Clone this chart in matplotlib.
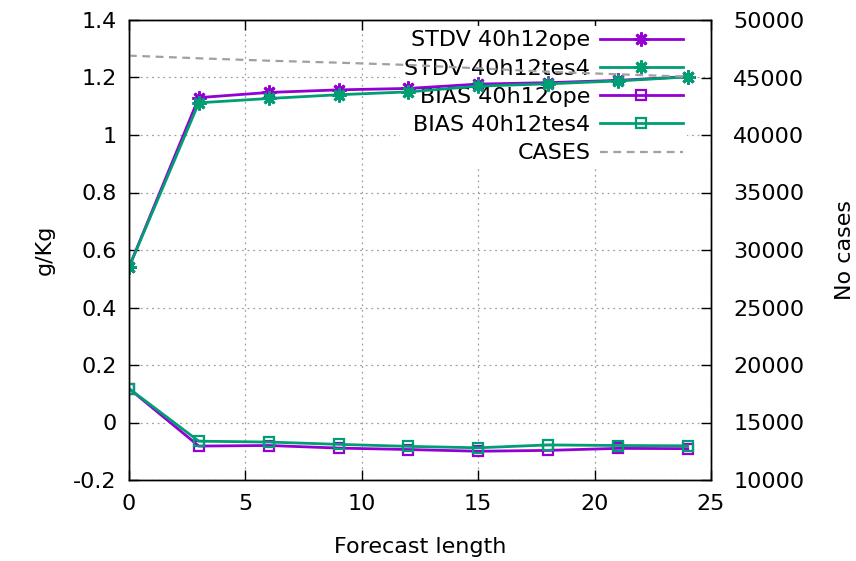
import numpy as np
import matplotlib
matplotlib.use("Agg")
import matplotlib.pyplot as plt

# forecast length (h)
lead = [0, 3, 6, 9, 12, 15, 18, 21, 24]

stdv_ope = [0.54, 1.130, 1.148, 1.157, 1.162, 1.177, 1.182, 1.190, 1.203]
stdv_tes4 = [0.54, 1.112, 1.127, 1.140, 1.150, 1.170, 1.178, 1.188, 1.202]
bias_ope = [0.118, -0.082, -0.080, -0.089, -0.094, -0.100, -0.097, -0.090, -0.091]
bias_tes4 = [0.118, -0.065, -0.068, -0.076, -0.083, -0.088, -0.078, -0.080, -0.081]
cases = [46900, 46670, 46460, 46290, 46090, 45800, 45500, 45280, 45070]

PURPLE = "#9400d3"
GREEN = "#009e73"
GREY = "#a0a0a0"

plt.rcParams["font.family"] = "DejaVu Sans"
plt.rcParams["font.size"] = 16

fig = plt.figure(figsize=(8.56, 5.61), dpi=100)
ax = fig.add_axes([129 / 856, 1 - 480 / 561, (711 - 129) / 856, 460 / 561])
ax2 = ax.twinx()

star = (8, 2, 0)  # gnuplot-ish asterisk
lw = 2.0

ax.plot(lead, stdv_ope, color=PURPLE, lw=lw, marker=star, ms=10, mew=2.0,
        label="STDV 40h12ope", zorder=3)
ax.plot(lead, stdv_tes4, color=GREEN, lw=lw, marker=star, ms=10, mew=2.0,
        label="STDV 40h12tes4", zorder=3)
ax.plot(lead, bias_ope, color=PURPLE, lw=lw, marker="s", ms=7, mew=1.6,
        mfc="none", label="BIAS 40h12ope", zorder=3)
ax.plot(lead, bias_tes4, color=GREEN, lw=lw, marker="s", ms=7, mew=1.6,
        mfc="none", label="BIAS 40h12tes4", zorder=3)
# cases drawn in the main axes but with the right-hand scale, so it sits above the key
ax.plot(lead, cases, color=GREY, lw=1.6, ls=(0, (3.5, 2.5)),
        transform=ax2.transData, label="CASES", zorder=3)

ax.set_xlim(0, 25)
ax.set_ylim(-0.2, 1.4)
ax2.set_ylim(10000, 50000)

ax.set_xticks(np.arange(0, 26, 5))
ax.set_yticks(np.arange(-0.2, 1.41, 0.2))
ax.set_yticklabels(["-0.2", "0", "0.2", "0.4", "0.6", "0.8", "1", "1.2", "1.4"])
ax2.set_yticks(np.arange(10000, 50001, 5000))

ax.grid(True, color=GREY, ls=(0, (1.5, 3)), lw=0.9)
ax.set_axisbelow(True)

ax.tick_params(axis="x", direction="in", length=7, width=1, pad=10, top=True)
ax.tick_params(axis="y", direction="in", length=7, width=1, pad=9, right=False)
ax2.tick_params(axis="y", direction="in", length=7, width=1, pad=16)

for a in (ax, ax2):
    for s in a.spines.values():
        s.set_linewidth(1.0)

ax.set_xlabel("Forecast length", va="center")
ax.set_ylabel("g/Kg", va="center")
ax2.set_ylabel("No cases", va="center")
ax.xaxis.set_label_coords(0.5, -0.145)
ax.yaxis.set_label_coords(-0.145, 0.5)
ax2.yaxis.set_label_coords(1.23, 0.5)

leg = ax.legend(loc="upper right", bbox_to_anchor=(1 - 24 / 582, 1 - 6 / 460),
                markerfirst=False, frameon=True,
                facecolor="white", edgecolor="none", framealpha=1,
                fancybox=False, handlelength=3.7, handletextpad=0.45,
                labelspacing=0.37, borderaxespad=0.0, borderpad=0.2)
leg.set_zorder(2)

fig.savefig("out.png", dpi=100)
